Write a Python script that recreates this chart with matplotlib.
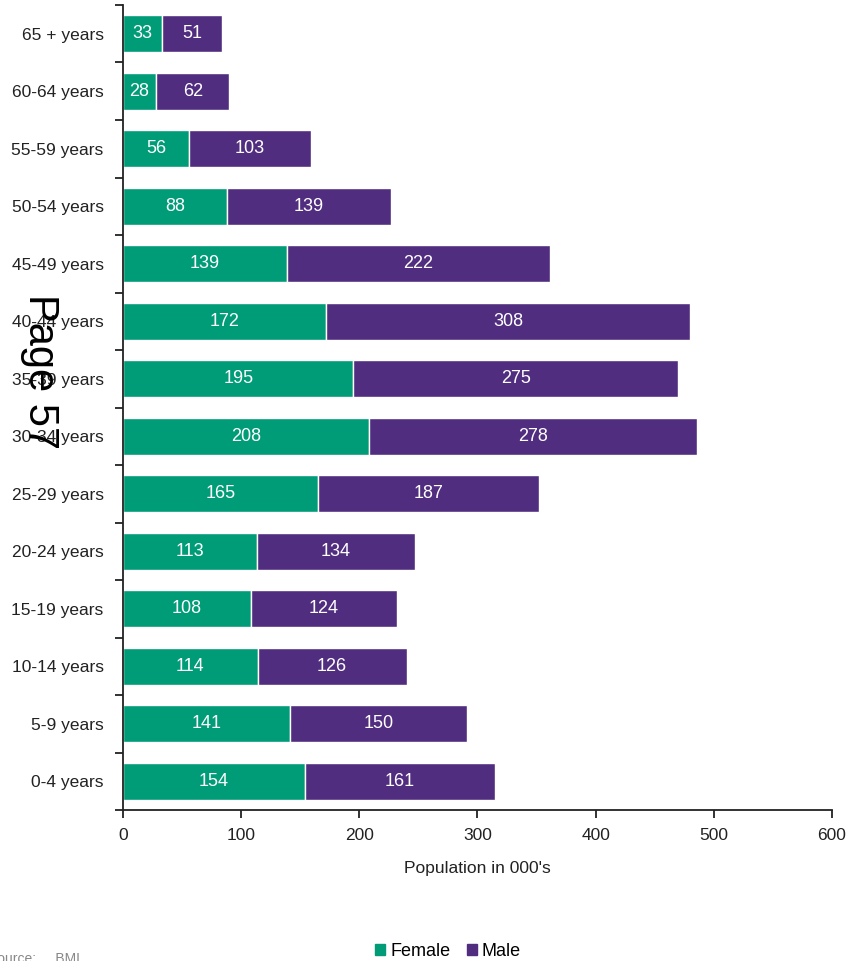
"""
Population by age group and sex, stacked horizontal bars
"""

import numpy as np
import matplotlib

matplotlib.use("Agg")
import matplotlib.pyplot as plt
from matplotlib.patches import Patch

age_groups = [
    "0-4 years", "5-9 years", "10-14 years", "15-19 years", "20-24 years",
    "25-29 years", "30-34 years", "35-39 years", "40-44 years", "45-49 years",
    "50-54 years", "55-59 years", "60-64 years", "65 + years",
]
female = [154, 141, 114, 108, 113, 165, 208, 195, 172, 139, 88, 56, 28, 33]
male = [161, 150, 126, 124, 134, 187, 278, 275, 308, 222, 139, 103, 62, 51]
x_ticks = [0, 100, 200, 300, 400, 500, 600]

GREEN = "#009B77"
PURPLE = "#512D7F"

plt.rcParams["font.family"] = ["Liberation Sans", "DejaVu Sans"]
fs = 12.5

fig = plt.figure(figsize=(8.5, 9.61), dpi=100)
fig.patch.set_facecolor("white")
ax = fig.add_axes([0.1447, 0.1571, 0.8341, 0.8377])

y = np.arange(len(age_groups))
bf = ax.barh(y, female, height=0.65, color=GREEN, edgecolor="white", linewidth=1)
bm = ax.barh(y, male, left=female, height=0.65, color=PURPLE,
             edgecolor="white", linewidth=1)

for rects, vals in ((bf, female), (bm, male)):
    for r, v in zip(rects, vals):
        ax.text(r.get_x() + r.get_width() / 2, r.get_y() + r.get_height() / 2,
                str(v), ha="center", va="center", color="white", fontsize=13)

ax.set_xlim(0, 600)
ax.set_ylim(-0.5, len(age_groups) - 0.5)
ax.set_xticks(x_ticks)
ax.set_xticklabels([str(t) for t in x_ticks], fontsize=fs, color="#222222")
ax.set_yticks(y)
ax.set_yticklabels(age_groups, fontsize=fs, color="#222222")
# boundary ticks between the age groups
ax.set_yticks(np.arange(len(age_groups) + 1) - 0.5, minor=True)
ax.tick_params(axis="y", which="major", length=0, pad=14)
ax.tick_params(axis="y", which="minor", length=6, width=1.3, color="#222222")
ax.tick_params(axis="x", length=6, width=1.3, color="#222222", pad=7)
ax.set_xlabel("Population in 000's", fontsize=fs, color="#222222", labelpad=13)

for s in ("top", "right"):
    ax.spines[s].set_visible(False)
for s in ("left", "bottom"):
    ax.spines[s].set_linewidth(1.3)
    ax.spines[s].set_color("#222222")

# page number stamp over the labels
fig.text(40 / 850, 1 - 372 / 961, "Page 57", rotation=-90, fontsize=30,
         ha="center", va="center", color="black")

handles = [Patch(color=GREEN, label="Female"), Patch(color=PURPLE, label="Male")]
fig.legend(handles=handles, loc="center", bbox_to_anchor=(448 / 850, 1 - 951 / 961),
           ncol=2, frameon=False, fontsize=13, handlelength=0.55,
           handleheight=0.55, handletextpad=0.3, columnspacing=0.9)

fig.text(-12 / 850, 1 - 952 / 961, "Source:     BMI", fontsize=10, color="#888888",
         ha="left", va="top")

fig.savefig("out.png", dpi=100)
